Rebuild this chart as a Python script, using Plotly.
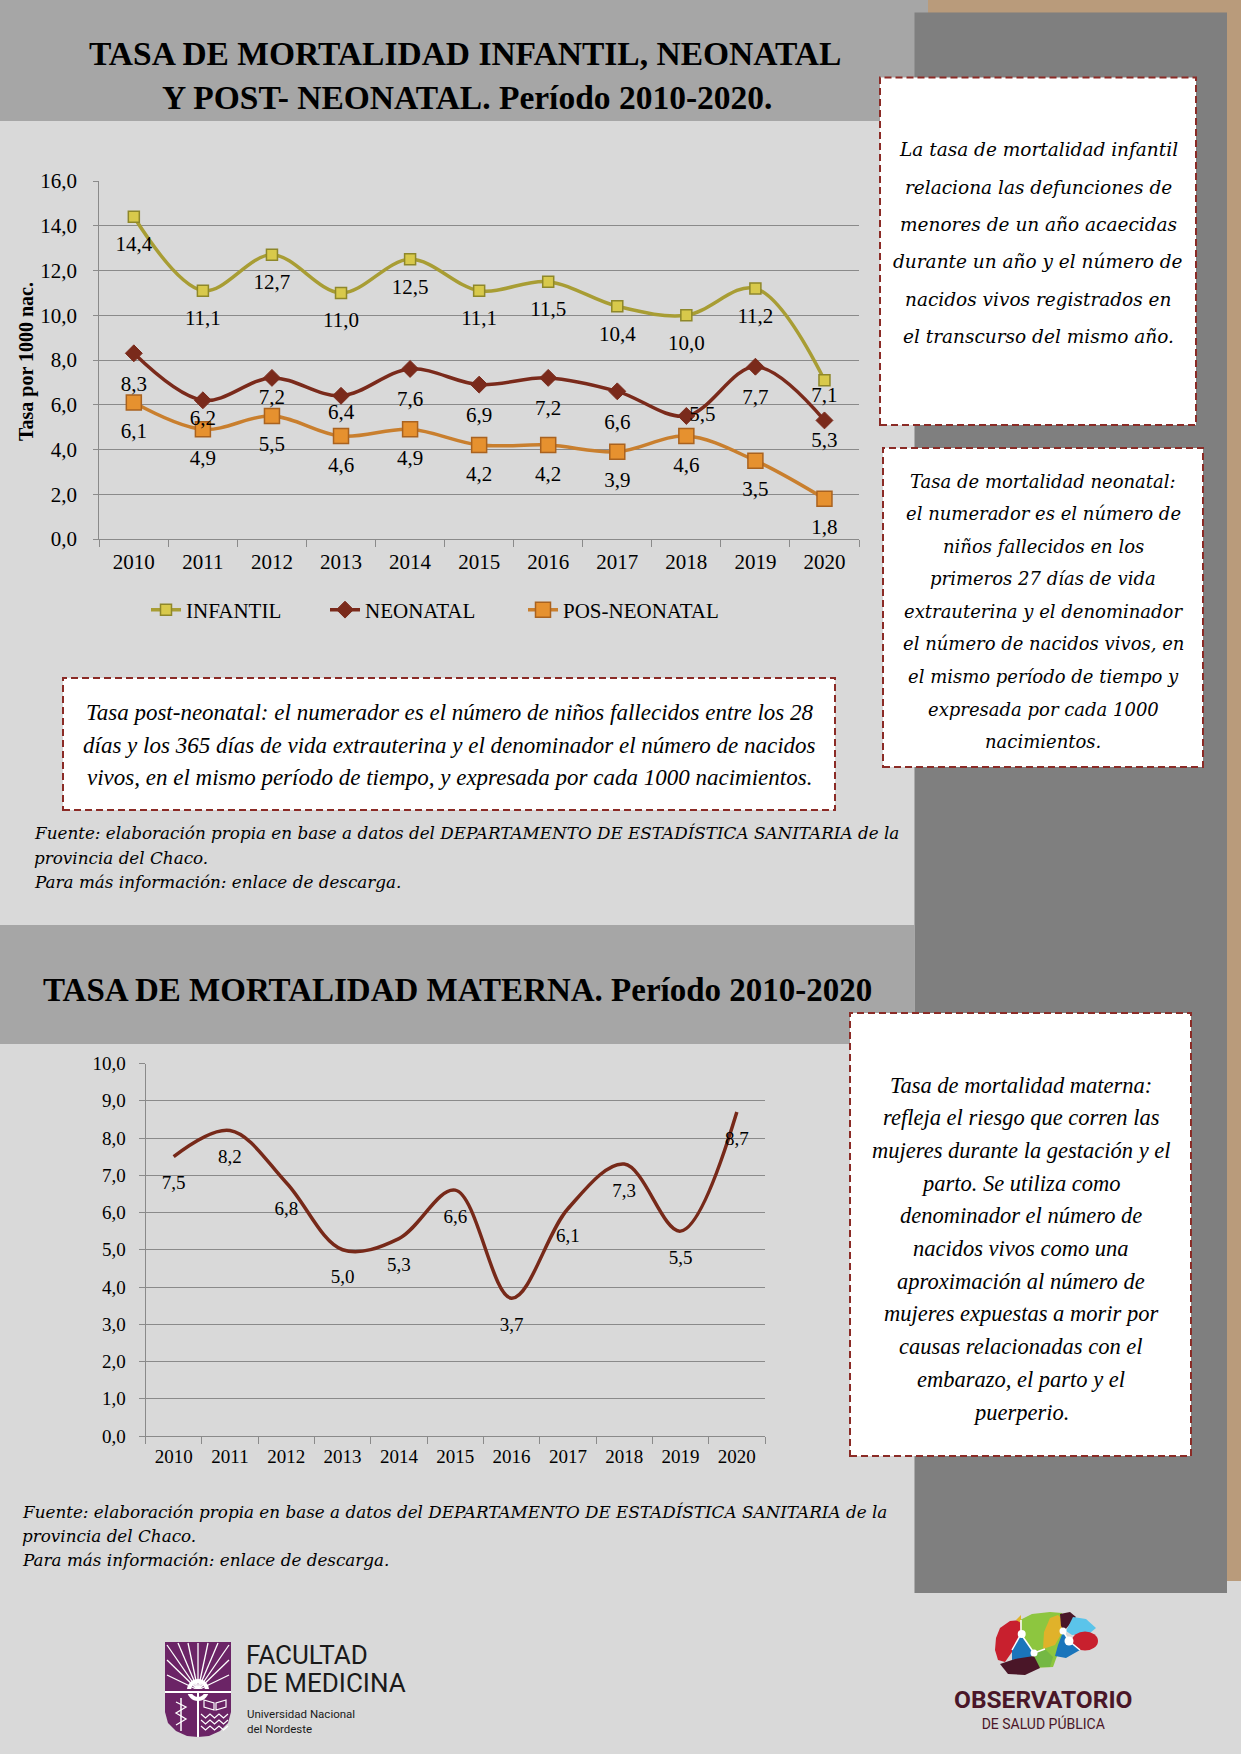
import plotly.graph_objects as go

W, H = 1241, 1754

# ---------------- data ----------------
years = ["2010", "2011", "2012", "2013", "2014", "2015", "2016", "2017", "2018", "2019", "2020"]
infantil = [14.4, 11.1, 12.7, 11.0, 12.5, 11.1, 11.5, 10.4, 10.0, 11.2, 7.1]
neonatal = [8.3, 6.2, 7.2, 6.4, 7.6, 6.9, 7.2, 6.6, 5.5, 7.7, 5.3]
posneonatal = [6.1, 4.9, 5.5, 4.6, 4.9, 4.2, 4.2, 3.9, 4.6, 3.5, 1.8]
materna = [7.5, 8.2, 6.8, 5.0, 5.3, 6.6, 3.7, 6.1, 7.3, 5.5, 8.7]
series_names = ["INFANTIL", "NEONATAL", "POS-NEONATAL"]

title_1_lines = ["TASA DE MORTALIDAD INFANTIL, NEONATAL", "Y POST- NEONATAL. Período 2010-2020."]
title_2 = "TASA DE MORTALIDAD MATERNA. Período 2010-2020"
y_title_1 = "Tasa por 1000 nac."

box_infantil_lines = [
    "La tasa de mortalidad infantil",
    "relaciona las defunciones de",
    "menores de un año acaecidas",
    "durante un año y el número de",
    "nacidos vivos registrados en",
    "el transcurso del mismo año.",
]
box_neonatal_lines = [
    "Tasa de mortalidad neonatal:",
    "el numerador es el número de",
    "niños fallecidos en los",
    "primeros 27 días de vida",
    "extrauterina y el denominador",
    "el número de nacidos vivos, en",
    "el mismo período de tiempo y",
    "expresada por cada 1000",
    "nacimientos.",
]
box_post_lines = [
    "Tasa post-neonatal: el numerador es el número de niños fallecidos entre los 28",
    "días y los 365 días de vida extrauterina y el denominador el número de nacidos",
    "vivos, en el mismo período de tiempo, y expresada por cada 1000 nacimientos.",
]
box_materna_lines = [
    "Tasa de mortalidad materna:",
    "refleja el riesgo que corren las",
    "mujeres durante la gestación y el",
    "parto. Se utiliza como",
    "denominador el número de",
    "nacidos vivos como una",
    "aproximación al número de",
    "mujeres expuestas a morir por",
    "causas relacionadas con el",
    "embarazo, el parto y el",
    "puerperio.",
]
fuente_lines = [
    "Fuente: elaboración propia en base a datos del DEPARTAMENTO DE ESTADÍSTICA SANITARIA de la",
    "provincia del Chaco.",
    "Para más información: enlace de descarga.",
]
logo_fac_lines = ["FACULTAD", "DE MEDICINA"]
logo_unne_lines = ["Universidad Nacional", "del Nordeste"]
logo_obs_lines = ["OBSERVATORIO", "DE SALUD PÚBLICA"]

# ---------------- styles ----------------
SERIF = "Liberation Serif, DejaVu Serif, serif"
WIDE = "DejaVu Serif, Liberation Serif, serif"
SANS = "Roboto, Liberation Sans, sans-serif"
GRID = "#8a8a8a"
C_INF, C_INF_M, C_INF_B = "#a89d34", "#d8c94b", "#8e872a"
C_NEO = "#7a2a1b"
C_POS, C_POS_M, C_POS_B = "#c97f2e", "#e6912f", "#a9621f"
C_MAT = "#772919"
BORDER = "#8b2b26"

# label offsets (transparent marker sizes) and positions
inf_lab_size = [28] * 10 + [8]
neo_lab_size = [33, 12, 15, 10, 33, 33, 33, 33, 3, 33, 15]
pos_lab_size = [30] * 11
mat_lab_size = [28] * 11
neo_lab_pos = ["bottom center"] * 8 + ["middle right"] + ["bottom center"] * 2


def fmt(v):
    return f"{v:.1f}".replace(".", ",")


def px(x):
    return x / W


def py(y):
    return 1 - y / H


fig = go.Figure()

# ---------------- chart 1 ----------------
specs = [
    (series_names[0], infantil, C_INF, dict(symbol="square", size=11, color=C_INF_M, line=dict(color=C_INF_B, width=1.5)), 3.5, inf_lab_size, ["bottom center"] * 11, 134),
    (series_names[1], neonatal, C_NEO, dict(symbol="diamond", size=13, color=C_NEO, line=dict(color=C_NEO, width=1)), 3.5, neo_lab_size, neo_lab_pos, 153),
    (series_names[2], posneonatal, C_POS, dict(symbol="square", size=15, color=C_POS_M, line=dict(color=C_POS_B, width=1.5)), 3.5, pos_lab_size, ["bottom center"] * 11, None),
]
for name, vals, col, mk, lw, labsz, labpos, legw in specs:
    tr = dict(x=years, y=vals, name=name, mode="lines+markers",
              line=dict(color=col, width=lw, shape="spline", smoothing=1.0),
              marker=mk, xaxis="x", yaxis="y", hoverinfo="skip")
    if legw:
        tr["legendwidth"] = legw
    fig.add_trace(go.Scatter(**tr))
for name, vals, col, mk, lw, labsz, labpos, legw in specs:
    fig.add_trace(go.Scatter(
        x=years, y=vals, mode="markers+text", showlegend=False, hoverinfo="skip",
        marker=dict(size=labsz, color="rgba(0,0,0,0)", line=dict(width=0, color="rgba(0,0,0,0)")),
        text=[fmt(v) for v in vals], textposition=labpos,
        textfont=dict(family=SERIF, size=21, color="black"),
        xaxis="x", yaxis="y"))

# ---------------- chart 2 ----------------
fig.add_trace(go.Scatter(
    x=years, y=materna, mode="lines", showlegend=False, hoverinfo="skip",
    line=dict(color=C_MAT, width=3.5, shape="spline", smoothing=1.0),
    xaxis="x2", yaxis="y2"))
fig.add_trace(go.Scatter(
    x=years, y=materna, mode="markers+text", showlegend=False, hoverinfo="skip",
    marker=dict(size=mat_lab_size, color="rgba(0,0,0,0)", line=dict(width=0, color="rgba(0,0,0,0)")),
    text=[fmt(v) for v in materna], textposition="bottom center",
    textfont=dict(family=SERIF, size=19, color="black"),
    xaxis="x2", yaxis="y2"))

# ---------------- shapes ----------------
shapes = []


def rect(x0, y0, x1, y1, fill, line_color=None, width=0, dash=None, layer="below"):
    d = dict(type="rect", xref="paper", yref="paper", layer=layer,
             x0=px(x0), x1=px(x1), y0=py(y1), y1=py(y0), fillcolor=fill,
             line=dict(width=width, color=line_color or fill))
    if dash:
        d["line"]["dash"] = dash
    return d


def poly(points, fill, line_color=None, width=0, closed=True):
    p = "M " + " L ".join(f"{px(x):.5f},{py(y):.5f}" for x, y in points) + (" Z" if closed else "")
    d = dict(type="path", path=p, xref="paper", yref="paper", layer="above",
             line=dict(width=width, color=line_color or fill))
    if closed:
        d["fillcolor"] = fill
    return d


def oval(cx, cy, rx, ry, fill):
    return dict(type="circle", xref="paper", yref="paper", layer="above",
                x0=px(cx - rx), x1=px(cx + rx), y0=py(cy + ry), y1=py(cy - ry),
                fillcolor=fill, line=dict(width=0))


def seg(x0, y0, x1, y1, color, width):
    return dict(type="line", xref="paper", yref="paper", layer="above",
                x0=px(x0), x1=px(x1), y0=py(y0), y1=py(y1), line=dict(color=color, width=width))


shapes.append(rect(0, 0, 928, 121, "#a6a6a6"))
shapes.append(rect(928, 0, 1241, 1581, "#b99b7b"))
shapes.append(rect(914.5, 12.5, 1227, 1593, "#7f7f7f"))
shapes.append(rect(0, 925, 914.5, 1044, "#a6a6a6"))
for b in [(880, 77.5, 1196, 425), (883, 448, 1203, 767), (63, 678, 835, 810), (850, 1013, 1191, 1456)]:
    shapes.append(rect(*b, "white", BORDER, 2, "7px,4px"))

# Facultad de Medicina logo (simplified)
PURPLE = "#6b2466"
shield = [(165, 1642), (231, 1642), (231, 1712), (228, 1723), (220, 1731), (209, 1736), (198, 1737),
          (187, 1736), (176, 1731), (168, 1723), (165, 1712)]
shapes.append(poly(shield, PURPLE))
shapes.append(oval(198, 1690, 11, 11, "white"))
shapes.append(oval(198, 1690, 7, 7, PURPLE))
for ex, ey in [(167, 1660), (167, 1645), (178, 1643), (188, 1643), (198, 1643), (208, 1643), (218, 1643), (229, 1645), (229, 1660), (229, 1675), (167, 1675)]:
    shapes.append(seg(198, 1690, ex, ey, "white", 1.3))
shapes.append(rect(165, 1689, 231, 1694, PURPLE, layer="above"))
shapes.append(seg(165, 1692, 231, 1692, "white", 2))
shapes.append(seg(198, 1692, 198, 1737, "white", 2))
shapes.append(seg(181, 1698, 181, 1731, "white", 1.5))
shapes.append(poly([(176, 1702), (186, 1707), (176, 1713), (186, 1719), (176, 1725)], None, "white", 1.3, closed=False))
shapes.append(poly([(204, 1700), (214, 1703), (214, 1710), (204, 1707)], "rgba(0,0,0,0)", "white", 1.2))
shapes.append(poly([(226, 1700), (216, 1703), (216, 1710), (226, 1707)], "rgba(0,0,0,0)", "white", 1.2))
for wy in [1716, 1722, 1728]:
    pts = [(201 + k * 4.5, wy + (2 if k % 2 else -2)) for k in range(7)]
    shapes.append(poly(pts, None, "white", 1.2, closed=False))

# Observatorio logo (simplified brain)
MAROON = "#4a1628"
shapes.append(poly([(1020, 1620), (1032, 1614), (1050, 1612), (1062, 1613), (1063, 1631), (1060, 1648),
                    (1053, 1667), (1035, 1668), (1021, 1634)], "#8dc63f"))
shapes.append(poly([(1044, 1632), (1050, 1618), (1058, 1615), (1063, 1620), (1063, 1631), (1055, 1645), (1043, 1649)], "#e0b22a"))
shapes.append(poly([(1060, 1614), (1070, 1612), (1076, 1617), (1064, 1631), (1061, 1626)], MAROON))
shapes.append(poly([(1073, 1617), (1086, 1619), (1096, 1628), (1090, 1633), (1072, 1635), (1066, 1631)], "#5bc4ea"))
shapes.append(oval(1085, 1641, 13, 9.5, "#c8202e"))
shapes.append(poly([(1063, 1632), (1070, 1641), (1080, 1650), (1066, 1658), (1055, 1656), (1058, 1645)], "#1a75bb"))
shapes.append(poly([(1000, 1628), (1010, 1621), (1020, 1620), (1021, 1634), (1018, 1645), (1012, 1652),
                    (1005, 1662), (998, 1660), (995, 1650), (996, 1638)], "#c8202e"))
shapes.append(poly([(1012, 1650), (1021, 1634), (1034, 1653), (1030, 1658), (1012, 1660)], "#1a75bb"))
shapes.append(poly([(1034, 1653), (1045, 1649), (1053, 1657), (1050, 1667), (1037, 1667)], "#74b844"))
shapes.append(poly([(1000, 1664), (1015, 1659), (1034, 1656), (1040, 1668), (1025, 1675), (1008, 1674)], MAROON))
shapes.append(poly([(1016, 1620), (1021, 1615), (1021, 1623)], "#e0b22a"))
for a, b in [((1021, 1620), (1021, 1634)), ((1021, 1634), (1034, 1653)), ((1034, 1653), (1045, 1649)),
             ((1063, 1631), (1069, 1641)), ((1069, 1641), (1080, 1650)), ((1021, 1634), (1012, 1650))]:
    shapes.append(seg(a[0], a[1], b[0], b[1], "white", 1.5))
for cx, cy, r in [(1021.7, 1634, 4), (1034, 1653, 3.5), (1063, 1631, 3.5), (1069, 1641, 4.5)]:
    shapes.append(oval(cx, cy, r, r, "white"))

# ---------------- annotations ----------------
ann = []


def text(x, y, s, size, family, color="black", xanchor="center", angle=0, align="center"):
    ann.append(dict(x=px(x), y=py(y), xref="paper", yref="paper", text=s, showarrow=False,
                    xanchor=xanchor, yanchor="middle", textangle=angle, align=align,
                    font=dict(size=size, family=family, color=color)))


text(465, 53, "<b>" + title_1_lines[0] + "</b>", 33.5, SERIF)
text(467, 97, "<b>" + title_1_lines[1] + "</b>", 33.5, SERIF)
text(41, 990, "<b>" + title_2 + "</b>", 33, SERIF, xanchor="left")
text(26, 362, "<b>" + y_title_1 + "</b>", 20, SERIF, angle=-90)

for i, s in enumerate(box_infantil_lines):
    text(1038, 149.5 + i * 37.5, "<i>" + s + "</i>", 18.5, WIDE)
for i, s in enumerate(box_neonatal_lines):
    text(1043, 481 + i * 32.6, "<i>" + s + "</i>", 18, WIDE)
for i, s in enumerate(box_post_lines):
    text(449, 713 + i * 32.2, "<i>" + s + "</i>", 23, SERIF)
for i, s in enumerate(box_materna_lines):
    text(1021, 1085 + i * 32.7, "<i>" + s + "</i>", 22.5, SERIF)
for i, s in enumerate(fuente_lines):
    text(32, 833 + i * 24.6, "<i>" + s + "</i>", 16.8, WIDE, xanchor="left", align="left")
for i, s in enumerate(fuente_lines):
    text(20, 1512 + i * 24.2, "<i>" + s + "</i>", 16.8, WIDE, xanchor="left", align="left")

# logo captions (stacked lines kept in one text block each)
fac = "<br>".join('<span style="font-size:26px">' + s + "</span>" for s in logo_fac_lines)
text(244, 1669, fac, 21.5, SANS, "#1a1a1a", xanchor="left", align="left")
text(245, 1721, "<br>".join(logo_unne_lines), 11.5, SANS, "#1a1a1a", xanchor="left", align="left")
obs = ('<span style="font-size:24.5px"><b>' + logo_obs_lines[0] + "</b></span><br>"
       '<span style="font-size:14px">' + logo_obs_lines[1] + "</span>")
text(1043, 1708, obs, 16.5, SANS, MAROON)

# ---------------- layout ----------------
axis_font = dict(family=SERIF, size=21, color="black")
axis_font2 = dict(family=SERIF, size=19, color="black")
common = dict(automargin=False, fixedrange=True, linecolor=GRID, linewidth=1, showline=True,
              ticks="outside", tickcolor=GRID)
fig.update_layout(
    width=W, height=H, margin=dict(l=0, r=0, t=0, b=0, pad=0, autoexpand=False),
    paper_bgcolor="#d9d9d9", plot_bgcolor="rgba(0,0,0,0)",
    separators=",.",
    showlegend=True,
    legend=dict(orientation="h", x=px(146), y=py(610), xanchor="left", yanchor="middle",
                bgcolor="rgba(0,0,0,0)", font=dict(family=SERIF, size=21, color="black"),
                itemwidth=30, borderwidth=0),
    xaxis=dict(domain=[px(99.3), px(859)], anchor="y", type="category", range=[-0.5, 10.5],
               tickson="boundaries", ticklen=7, tickfont=axis_font, showgrid=False,
               ticklabelstandoff=4, **common),
    yaxis=dict(domain=[py(539), py(181)], anchor="x", range=[0, 16], dtick=2, tickformat=".1f",
               showgrid=True, gridcolor=GRID, gridwidth=1, ticklen=5, tickfont=axis_font,
               zeroline=False, ticklabelstandoff=12, **common),
    xaxis2=dict(domain=[px(145.5), px(765)], anchor="y2", type="category", range=[-0.5, 10.5],
                tickson="boundaries", ticklen=7, tickfont=axis_font2, showgrid=False,
                ticklabelstandoff=3, **common),
    yaxis2=dict(domain=[py(1436), py(1063.5)], anchor="x2", range=[0, 10], dtick=1, tickformat=".1f",
                showgrid=True, gridcolor=GRID, gridwidth=1, ticklen=6, tickfont=axis_font2,
                zeroline=False, ticklabelstandoff=9, **common),
    shapes=shapes,
    annotations=ann,
)

fig.write_html(
    "out.html", config={"displayModeBar": False},
    post_script=("document.body.style.margin='0';document.body.style.padding='0';"
                 "var g=document.getElementById('{plot_id}');"
                 "g.style.position='absolute';g.style.left='0px';g.style.top='0px';"))
